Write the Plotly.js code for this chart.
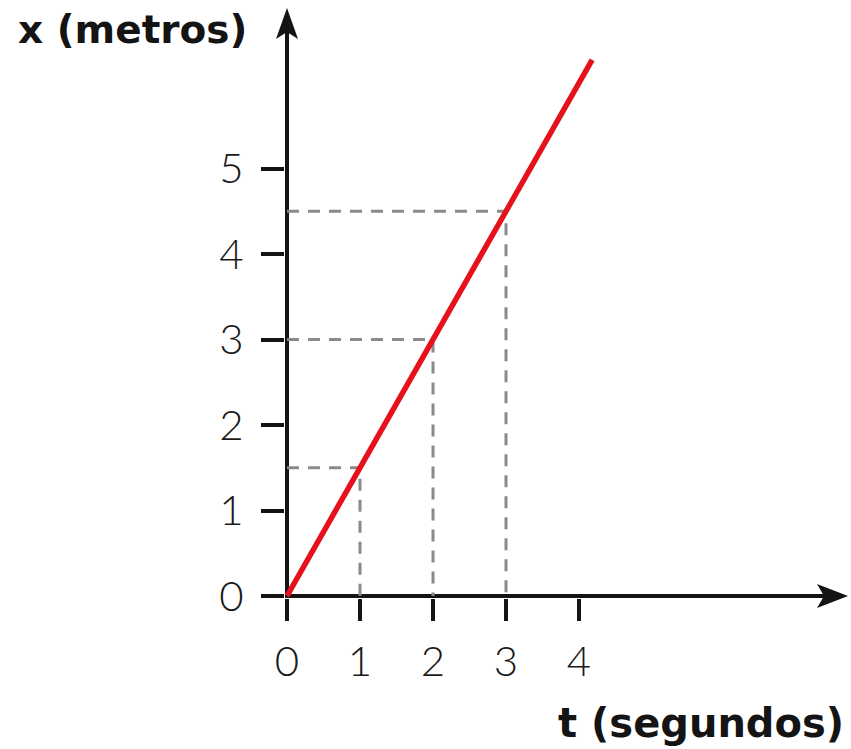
<!DOCTYPE html>
<html>
<head>
<meta charset="utf-8">
<script src="https://cdn.plot.ly/plotly-3.0.1.min.js"></script>
<style>
  html, body { margin: 0; padding: 0; background: #ffffff; }
  #chart { width: 851px; height: 749px; }
</style>
</head>
<body>
<div id="chart"></div>
<script>
// Position x (metres) against time t (seconds) for uniform motion, v = 1.5 m/s
const lineT = [0, 4.18];
const lineX = [0, 6.27];

// Readings marked with dashed guides
const markT = [1, 2, 3];
const markX = [1.5, 3, 4.5];

// Axis ticks
const tTicks = [0, 1, 2, 3, 4];
const xTicks = [0, 1, 2, 3, 4, 5];

// Dashed guides: horizontal from the x axis to the line, then down to the t axis
const guideT = [];
const guideX = [];
markT.forEach((t, i) => {
  guideT.push(0, t, t, null);
  guideX.push(markX[i], markX[i], 0, null);
});

const ink = '#141414';
const pxPerT = 73;
const pxPerX = 85.5;
// the axes are drawn as zero lines, 2px inside the plot area edges
const inset = 2;
const margin = { l: 285, r: 16, t: 30, b: 151 };
const plotW = 851 - margin.l - margin.r;
const plotH = 749 - margin.t - margin.b;

const traces = [
  {
    x: guideT, y: guideX,
    mode: 'lines',
    line: { color: '#8a8a8a', width: 3, dash: '12px,9px' },
    hoverinfo: 'skip',
    connectgaps: false
  },
  {
    x: lineT, y: lineX,
    mode: 'lines',
    line: { color: '#e5121d', width: 5.5 },
    hoverinfo: 'skip'
  }
];

const tickFont = { family: 'Lato, "DejaVu Sans", sans-serif', size: 42, color: '#1a1a1a', weight: 300 };
const titleFont = { family: '"DejaVu Sans", sans-serif', size: 39, color: ink, weight: 'bold' };

const axisCommon = {
  tickmode: 'array',
  showgrid: false,
  showline: false,
  zeroline: true,
  zerolinecolor: ink,
  zerolinewidth: 4,
  ticks: 'outside',
  tickwidth: 4,
  tickcolor: ink,
  tickfont: tickFont,
  fixedrange: true
};

const layout = {
  width: 851,
  height: 749,
  margin: margin,
  paper_bgcolor: '#ffffff',
  plot_bgcolor: '#ffffff',
  showlegend: false,
  xaxis: Object.assign({}, axisCommon, {
    range: [-inset / pxPerT, (plotW - inset) / pxPerT],
    tickvals: tTicks,
    ticktext: tTicks.map(String),
    ticklen: 22,
    ticklabelstandoff: 5
  }),
  yaxis: Object.assign({}, axisCommon, {
    range: [-inset / pxPerX, (plotH - inset) / pxPerX],
    tickvals: xTicks,
    ticktext: xTicks.map(String),
    ticklen: 23,
    ticklabelstandoff: 9
  }),
  shapes: [
    // arrowhead at the end of the t axis
    {
      type: 'path', xref: 'paper', yref: 'paper',
      xsizemode: 'pixel', ysizemode: 'pixel',
      xanchor: 1, yanchor: 0,
      path: 'M13,2 L-18,14 L-11,2 L-18,-10 Z',
      fillcolor: ink, line: { width: 0 }
    },
    // arrowhead at the top of the x axis
    {
      type: 'path', xref: 'paper', yref: 'paper',
      xsizemode: 'pixel', ysizemode: 'pixel',
      xanchor: 0, yanchor: 1,
      path: 'M2,22 L-9,-9 L2,-2 L13,-9 Z',
      fillcolor: ink, line: { width: 0 }
    }
  ],
  annotations: [
    {
      text: 'x (metros)', xref: 'paper', yref: 'paper',
      x: 0, y: 1, xanchor: 'right', yanchor: 'bottom',
      xshift: -36, yshift: -24,
      showarrow: false, font: titleFont
    },
    {
      text: 't (segundos)', xref: 'paper', yref: 'paper',
      x: 1, y: 0, xanchor: 'right', yanchor: 'top',
      xshift: 11, yshift: -100,
      showarrow: false, font: { ...titleFont, size: 40 }
    }
  ]
};

Plotly.newPlot('chart', traces, layout, { displayModeBar: false, staticPlot: true });
</script>
</body>
</html>
